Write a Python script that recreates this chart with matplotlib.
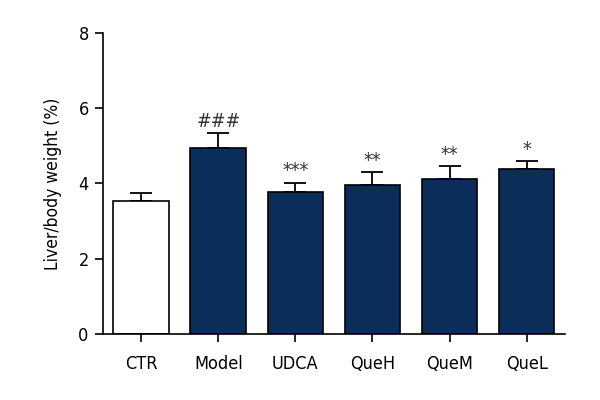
import matplotlib.pyplot as plt
import numpy as np

groups = ['CTR', 'Model', 'UDCA', 'QueH', 'QueM', 'QueL']
means = [3.54, 4.95, 3.78, 3.96, 4.11, 4.38]
sem = [0.20, 0.38, 0.24, 0.34, 0.34, 0.21]
marks = ['', '###', '***', '**', '**', '*']
fills = ['white', '#0a2d5a', '#0a2d5a', '#0a2d5a', '#0a2d5a', '#0a2d5a']

plt.rcParams['font.family'] = ['DejaVu Sans']
plt.rcParams['font.stretch'] = 'condensed'

fig = plt.figure(figsize=(6, 4), dpi=100)
ax = fig.add_axes([0.171, 0.165, 0.771, 0.753])

x = np.arange(len(groups))
ax.bar(x, means, width=0.72, color=fills, edgecolor='black', linewidth=1.2, zorder=2)
ax.errorbar(x, means, yerr=[np.zeros(len(sem)), sem], fmt='none', ecolor='black',
            elinewidth=1.3, capsize=8, capthick=1.3, zorder=1)

for xi, m, s, t in zip(x, means, sem, marks):
    if t:
        ax.text(xi, m + s + 0.06, t, ha='center', va='bottom', fontsize=14, color='#333333')

ax.set_xlim(-0.5, 5.5)
ax.set_ylim(0, 8)
ax.set_yticks([0, 2, 4, 6, 8])
ax.set_xticks(x)
ax.set_xticklabels(groups)
ax.set_ylabel('Liver/body weight (%)', fontsize=12.5, labelpad=12)
ax.tick_params(labelsize=13, width=1.2, length=6)
ax.tick_params(axis='x', pad=9)
ax.tick_params(axis='y', pad=4)
for side in ['top', 'right']:
    ax.spines[side].set_visible(False)
for side in ['left', 'bottom']:
    ax.spines[side].set_linewidth(1.2)

fig.savefig('out.png', dpi=100)
